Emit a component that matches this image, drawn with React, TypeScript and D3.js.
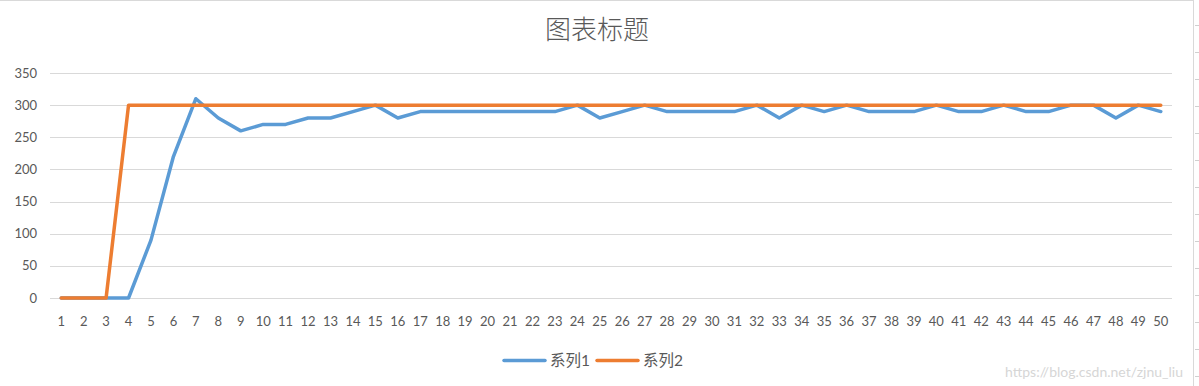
import React, { useRef, useEffect } from 'react';
import * as d3 from 'd3';

const categories: string[] = Array.from({ length: 50 }, (_, i) => String(i + 1));

const series1: number[] = [
  0, 0, 0, 0, 90, 220, 310, 280, 260, 270,
  270, 280, 280, 290, 300, 280, 290, 290, 290, 290,
  290, 290, 290, 300, 280, 290, 300, 290, 290, 290,
  290, 300, 280, 300, 290, 300, 290, 290, 290, 300,
  290, 290, 300, 290, 290, 300, 300, 280, 300, 290,
];

const series2: number[] = [
  0, 0, 0, 300, 300, 300, 300, 300, 300, 300,
  300, 300, 300, 300, 300, 300, 300, 300, 300, 300,
  300, 300, 300, 300, 300, 300, 300, 300, 300, 300,
  300, 300, 300, 300, 300, 300, 300, 300, 300, 300,
  300, 300, 300, 300, 300, 300, 300, 300, 300, 300,
];

const yTicks: number[] = [0, 50, 100, 150, 200, 250, 300, 350];
const seriesNames: string[] = ['系列1', '系列2'];
const seriesColors: string[] = ['#5B9BD5', '#ED7D31'];
const title = '图表标题';
const watermark = 'https://blog.csdn.net/zjnu_liu';

const W = 1199;
const H = 386;
const FONT = "Lato, 'Noto Sans CJK SC', sans-serif";

const App = () => {
  const svgRef = useRef<SVGSVGElement | null>(null);

  useEffect(() => {
    if (!svgRef.current) return;
    const svg = d3.select(svgRef.current);
    svg.selectAll('*').remove();

    const left = 50, right = 1172, top = 73, bottom = 298;

    const x = d3.scaleBand<string>().domain(categories).range([left, right]);
    const y = d3.scaleLinear().domain([0, 350]).range([bottom, top]);

    svg.append('rect').attr('width', W).attr('height', H).attr('fill', '#fff');

    // frame lines from the spreadsheet background
    svg.append('line').attr('x1', 0).attr('x2', 1193).attr('y1', 0.5).attr('y2', 0.5)
      .attr('stroke', '#d9d9d9');
    svg.append('line').attr('x1', 1193.5).attr('x2', 1193.5).attr('y1', 0).attr('y2', H)
      .attr('stroke', '#d9d9d9');
    svg.append('g').selectAll('line').data(d3.range(25, H, 27)).enter().append('line')
      .attr('x1', 1195).attr('x2', W).attr('y1', d => d + 0.5).attr('y2', d => d + 0.5)
      .attr('stroke', '#d0d0d0');

    // title
    svg.append('text').attr('x', 597).attr('y', 30).attr('dy', '0.35em').attr('text-anchor', 'middle')
      .attr('font-family', FONT).attr('font-size', 26).attr('font-weight', 300)
      .attr('fill', '#595959').text(title);

    // grid
    svg.append('g').selectAll('line').data(yTicks).enter().append('line')
      .attr('x1', left).attr('x2', right)
      .attr('y1', d => Math.round(y(d)) + 0.5).attr('y2', d => Math.round(y(d)) + 0.5)
      .attr('stroke', '#d9d9d9').attr('stroke-width', 1);

    // y labels
    svg.append('g').selectAll('text').data(yTicks).enter().append('text')
      .attr('x', 37).attr('y', d => y(d)).attr('dy', '0.35em').attr('text-anchor', 'end')
      .attr('font-family', FONT).attr('font-size', 13).attr('fill', '#595959')
      .text(d => String(d));

    // x labels
    svg.append('g').selectAll('text').data(categories).enter().append('text')
      .attr('x', d => (x(d) as number) + x.bandwidth() / 2).attr('y', 321).attr('dy', '0.35em')
      .attr('text-anchor', 'middle')
      .attr('font-family', FONT).attr('font-size', 13).attr('fill', '#595959')
      .text(d => d);

    const line = d3.line<number>()
      .x((_, i) => (x(categories[i]) as number) + x.bandwidth() / 2)
      .y(d => y(d));

    [series1, series2].forEach((s, i) => {
      svg.append('path').datum(s).attr('d', line).attr('fill', 'none')
        .attr('stroke', seriesColors[i]).attr('stroke-width', 3.5)
        .attr('stroke-linejoin', 'round').attr('stroke-linecap', 'round');
    });

    // legend
    const legend = svg.append('g');
    const lx = [504, 597];
    seriesNames.forEach((n, i) => {
      legend.append('line').attr('x1', lx[i]).attr('x2', lx[i] + 41).attr('y1', 360.5).attr('y2', 360.5)
        .attr('stroke', seriesColors[i]).attr('stroke-width', 3.5).attr('stroke-linecap', 'round');
      legend.append('text').attr('x', lx[i] + 46).attr('y', 360).attr('dy', '0.35em')
        .attr('font-family', FONT).attr('font-size', 16).attr('fill', '#595959')
        .attr('textLength', 40).attr('lengthAdjust', 'spacingAndGlyphs').text(n);
    });

    // watermark
    svg.append('text').attr('x', 1183).attr('y', 372).attr('dy', '0.35em').attr('text-anchor', 'end')
      .attr('font-family', FONT).attr('font-size', 14).attr('fill', '#d6d6d6').text(watermark);
  }, []);

  return (
    <svg ref={svgRef} width={W} height={H}
      style={{ position: 'absolute', left: 0, top: 0, display: 'block' }} />
  );
};

export default App;
